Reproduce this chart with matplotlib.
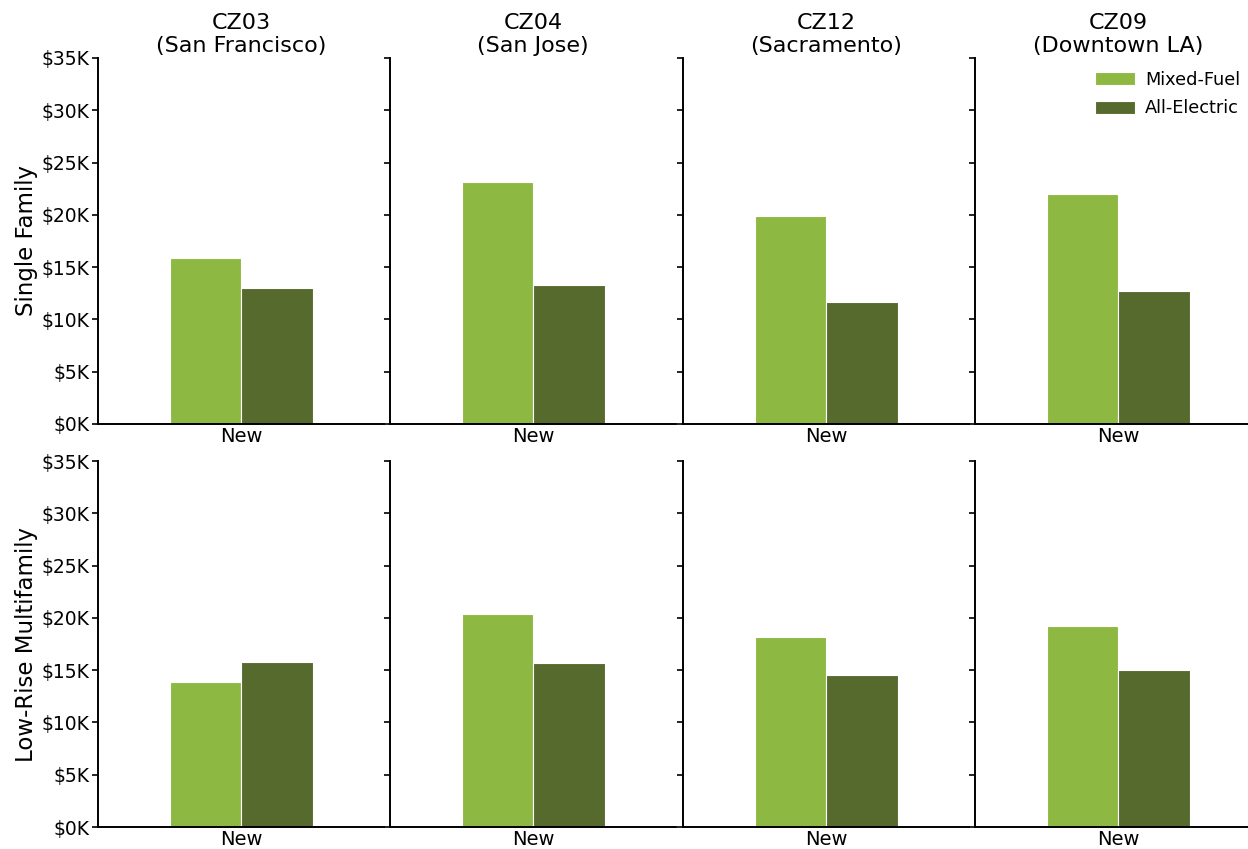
import numpy as np
import matplotlib
matplotlib.use('Agg')
import matplotlib.pyplot as plt
from matplotlib.ticker import FuncFormatter

# climate zones (columns)
zones = ['CZ03', 'CZ04', 'CZ12', 'CZ09']
cities = ['San Francisco', 'San Jose', 'Sacramento', 'Downtown LA']
# building types (rows)
row_labels = ['Single Family', 'Low-Rise Multifamily']
categories = ['New']
series = ['Mixed-Fuel', 'All-Electric']

# values in $K
mixed_sf = [15.9, 23.1, 19.9, 22.0]
electric_sf = [13.0, 13.3, 11.7, 12.7]
mixed_mf = [13.9, 20.4, 18.2, 19.2]
electric_mf = [15.8, 15.7, 14.5, 15.0]

colors = ['#8db943', '#566a2e']
data = [[mixed_sf, electric_sf], [mixed_mf, electric_mf]]

fig = plt.figure(figsize=(12.48, 8.49), dpi=100)

lefts = [98, 390, 683, 975]
ax_w = 286 / 1248
ax_h = 366 / 849
bottoms = [(849 - 424) / 849, (849 - 827) / 849]

x = np.arange(len(categories))
w = 0.25

for r in range(2):
    for c in range(4):
        ax = fig.add_axes([lefts[c] / 1248, bottoms[r], ax_w, ax_h])
        for k in range(2):
            ax.bar(x - w / 2 + k * w, [data[r][k][c]], width=w, color=colors[k],
                   edgecolor='white', linewidth=0.8, label=series[k])
        ax.set_xlim(-0.5, 0.5)
        ax.set_ylim(0, 35)
        ax.set_yticks(np.arange(0, 36, 5))
        ax.set_xticks(x)
        ax.set_xticklabels(categories, fontsize=14)
        ax.tick_params(axis='x', length=0, pad=2)
        ax.tick_params(axis='y', length=4, width=1.2, labelsize=13.5, pad=2)
        for s in ['top', 'right']:
            ax.spines[s].set_visible(False)
        for s in ['left', 'bottom']:
            ax.spines[s].set_linewidth(1.4)
        if c == 0:
            ax.yaxis.set_major_formatter(FuncFormatter(lambda v, p: '$%dK' % v))
            ax.set_ylabel(row_labels[r], fontsize=16.5, labelpad=3)
        else:
            ax.set_yticklabels([])
        if r == 0:
            ax.set_title('%s\n(%s)' % (zones[c], cities[c]), fontsize=16, pad=4,
                         linespacing=1.2)
        if r == 0 and c == 3:
            ax.legend(frameon=False, loc='upper left', bbox_to_anchor=(0.42, 0.965),
                      fontsize=12.8, handlelength=2.25, handleheight=0.75,
                      labelspacing=0.6, borderpad=0, borderaxespad=0,
                      handletextpad=0.55)

fig.savefig('out.png', dpi=100)
